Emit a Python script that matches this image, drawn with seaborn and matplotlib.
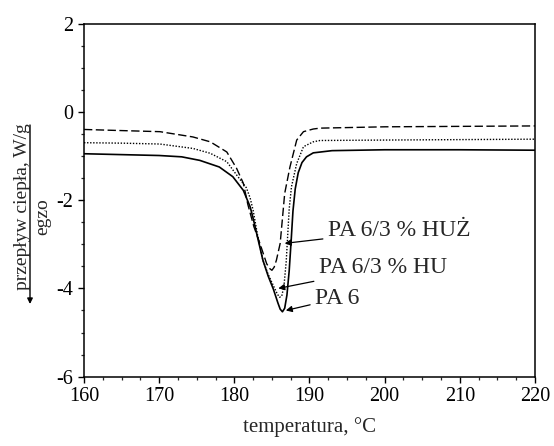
import pandas as pd
import matplotlib.pyplot as plt
import seaborn as sns

# PA 6 (solid)
t_pa6 = [160, 165, 170, 173, 175.4, 178, 179.8, 181.2, 182.1, 182.5, 183.1, 183.8, 184.5,
         185.2, 185.8, 186.1, 186.4, 186.7, 187.0, 187.3, 187.55, 187.8, 188.1, 188.5,
         189.0, 189.6, 190.5, 193, 200, 210, 220]
q_pa6 = [-0.95, -0.97, -0.99, -1.02, -1.10, -1.25, -1.47, -1.78, -2.15, -2.41, -2.85, -3.36,
         -3.72, -4.02, -4.33, -4.47, -4.53, -4.45, -4.15, -3.60, -2.95, -2.25, -1.75, -1.38,
         -1.15, -1.02, -0.93, -0.88, -0.86, -0.86, -0.87]

# PA 6/3 % HU (dotted)
t_hu = [160, 165, 170.1, 174.5, 176.8, 179.0, 180.3, 181.6, 182.1, 182.5, 183.1, 183.8,
        184.5, 185.2, 185.7, 186.0, 186.3, 186.6, 186.9, 187.1, 187.3, 187.6, 188.3, 189.2,
        190.5, 191.4, 200, 210, 220]
q_hu = [-0.70, -0.71, -0.73, -0.83, -0.94, -1.13, -1.43, -1.72, -1.95, -2.23, -2.80, -3.36,
        -3.68, -3.94, -4.12, -4.20, -4.18, -3.95, -3.40, -2.80, -2.20, -1.70, -1.17, -0.79,
        -0.68, -0.65, -0.64, -0.63, -0.62]

# PA 6/3 % HUŻ (dashed)
t_huz = [160, 163.9, 170.1, 174.5, 176.8, 179.0, 180.3, 181.2, 181.8, 182.6, 183.4, 184.3,
         184.7, 185.0, 185.3, 185.6, 186.1, 186.5, 186.7, 187.4, 188.3, 189.2, 190.5,
         191.4, 200, 210, 220]
q_huz = [-0.40, -0.42, -0.45, -0.57, -0.68, -0.91, -1.28, -1.62, -2.10, -2.60, -2.98, -3.44,
         -3.55, -3.59, -3.52, -3.36, -2.98, -2.23, -1.85, -1.25, -0.64, -0.45, -0.39,
         -0.37, -0.34, -0.33, -0.32]

labels = ["PA 6/3 % HUŻ", "PA 6/3 % HU", "PA 6"]
label_xy = [(192.4, -2.68), (191.2, -3.53), (190.7, -4.23)]
arrow_xy = [(186.7, -2.98), (185.85, -4.00), (186.85, -4.50)]


def main():
    sns.set_style("ticks")
    plt.rcParams["font.family"] = ["Liberation Serif", "DejaVu Serif"]
    plt.rcParams["axes.unicode_minus"] = False

    fig = plt.figure(figsize=(5.54, 4.46), dpi=100)
    ax = fig.add_axes([0.1516, 0.1554, 0.8141, 0.7919])

    df1 = pd.DataFrame({"t": t_pa6, "q": q_pa6})
    df2 = pd.DataFrame({"t": t_hu, "q": q_hu})
    df3 = pd.DataFrame({"t": t_huz, "q": q_huz})

    sns.lineplot(data=df1, x="t", y="q", ax=ax, color="black", lw=1.2,
                 sort=False, estimator=None)
    sns.lineplot(data=df2, x="t", y="q", ax=ax, color="black", lw=1.0,
                 sort=False, estimator=None, linestyle=(0, (1, 1.2)))
    sns.lineplot(data=df3, x="t", y="q", ax=ax, color="black", lw=1.0,
                 sort=False, estimator=None, linestyle=(0, (6, 2.5)))

    for lab, xy, tip in zip(labels, label_xy, arrow_xy):
        ax.annotate(lab, xy=tip, xytext=xy, fontsize=17, va="center", ha="left",
                    arrowprops=dict(arrowstyle="-|>", color="black", lw=0.9,
                                    mutation_scale=9, shrinkA=1, shrinkB=0))

    ax.set_xlim(160, 220)
    ax.set_ylim(-6, 2)
    ax.set_xticks(range(160, 221, 10))
    ax.set_yticks([-6, -4, -2, 0, 2])
    ax.set_xticks([160 + 2.5 * i for i in range(25)], minor=True)
    ax.set_yticks([-6 + 0.5 * i for i in range(17)], minor=True)
    ax.tick_params(which="major", direction="out", length=4.5, width=1.0,
                   labelsize=14.5, colors="black", pad=3)
    ax.tick_params(which="minor", direction="out", length=2.5, width=0.9)
    for s in ax.spines.values():
        s.set_linewidth(1.1)
        s.set_color("black")

    ax.set_xlabel("temperatura, °C", fontsize=15, labelpad=8)
    ax.set_ylabel("")

    # y label with exo arrow
    fig.text(23 / 554, 1 - 207 / 446, "przepływ ciepła, W/g", rotation=90,
             fontsize=14, ha="center", va="center")
    fig.text(43 / 554, 1 - 217 / 446, "egzo", rotation=90,
             fontsize=14, ha="center", va="center")
    ax.annotate("", xy=(30 / 554, 1 - 304 / 446), xytext=(30 / 554, 1 - 125 / 446),
                xycoords="figure fraction", textcoords="figure fraction",
                arrowprops=dict(arrowstyle="-|>", color="black", lw=1.0,
                                mutation_scale=8, shrinkA=0, shrinkB=0),
                annotation_clip=False)

    fig.savefig("out.png", dpi=100)


if __name__ == "__main__":
    main()
